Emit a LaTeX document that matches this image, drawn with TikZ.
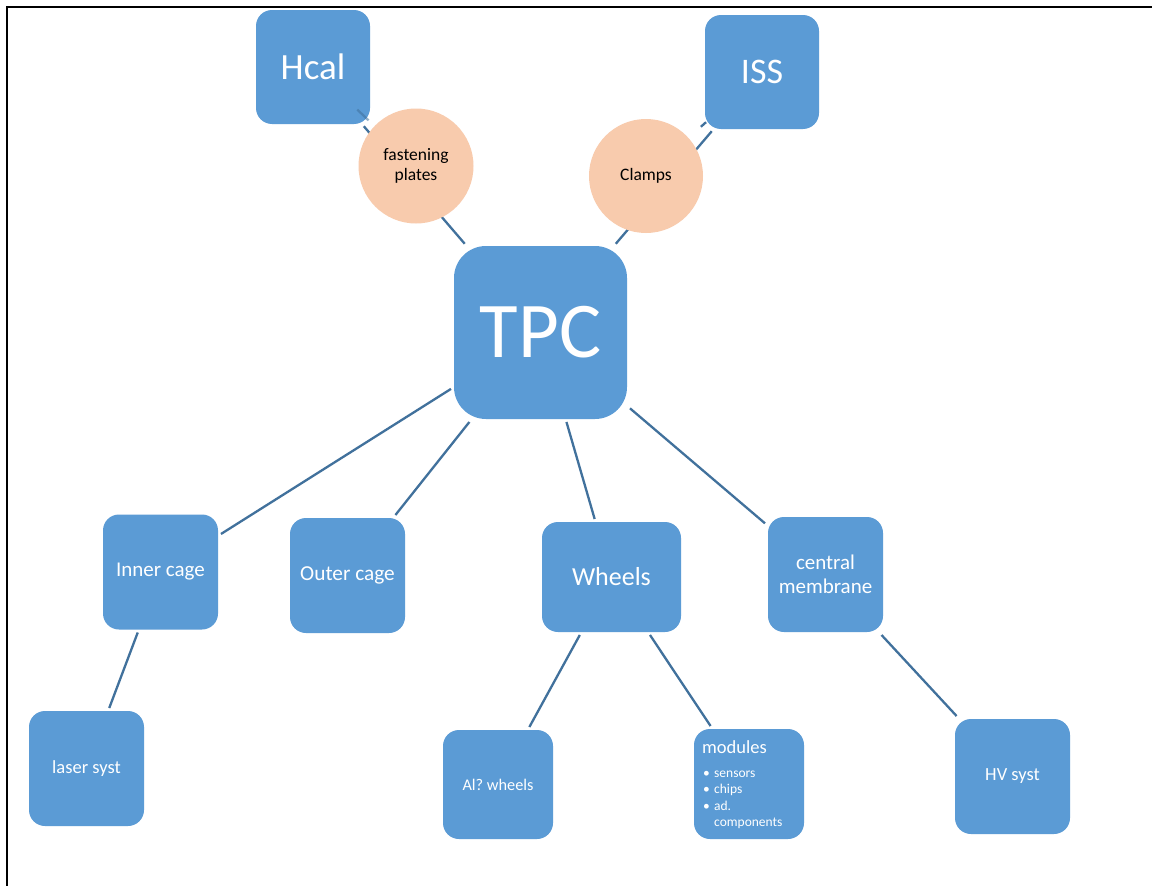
\documentclass[tikz,border=0pt]{standalone}
\usepackage{fontspec}
\setmainfont{Carlito}
\usetikzlibrary{backgrounds}
\definecolor{boxblue}{HTML}{5B9BD5}
\definecolor{linkblue}{HTML}{41719C}
\definecolor{peach}{HTML}{F8CBAD}
\tikzset{
  box/.style={rectangle, fill=boxblue, rounded corners=16pt, text=white,
    inner sep=0pt, outer sep=3pt, align=center,
    minimum width=115pt, minimum height=115pt},
  blob/.style={circle, fill=peach, inner sep=0pt, align=center, text=black,
    font=\fontsize{17.5}{20}\selectfont},
  link/.style={draw=linkblue, line width=2.3pt},
}
\begin{document}
\frenchspacing
\begin{tikzpicture}[x=1pt,y=-1pt]
\useasboundingbox (0,0) rectangle (1152,886);
% nodes
\node[box, minimum width=114pt, minimum height=114pt, font=\fontsize{37}{40}\selectfont] (hcal) at (313,67) {Hcal};
\node[box, minimum width=114pt, minimum height=114pt, font=\fontsize{36}{40}\selectfont] (iss) at (762,72) {ISS};
\node[blob, minimum size=115pt] (fast) at (416,166) {fastening\\plates};
\node[blob, minimum size=114pt] (clamps) at (646,176) {Clamps};
\node[box, minimum width=173pt, minimum height=173pt, rounded corners=32pt, font=\fontsize{79}{80}\selectfont] (tpc) at (540.5,332.5) {TPC};
\node[box, font=\fontsize{21}{24}\selectfont] (inner) at (160.5,572) {Inner cage};
\node[box, font=\fontsize{21.3}{24}\selectfont] (outer) at (347.5,575.5) {Outer cage};
\node[box, minimum width=139pt, minimum height=110pt, font=\fontsize{26}{28}\selectfont] (wheels) at (611.5,577) {Wheels};
\node[box, font=\fontsize{21}{24}\selectfont] (cm) at (825.5,574.5) {central\\membrane};
\node[box, font=\fontsize{18.5}{20}\selectfont] (laser) at (86.5,768.5) {laser syst};
\node[box, minimum width=110pt, minimum height=109pt, font=\fontsize{16.3}{20}\selectfont] (al) at (498,784.5) {Al? wheels};
\node[box, minimum width=110pt, minimum height=110pt] (modules) at (749,784) {};
\node[anchor=base west, inner sep=0pt, text=white, font=\fontsize{18.5}{20}\selectfont] (modtitle) at (702,753) {modules};
\node[anchor=base west, inner sep=0pt, text=white, font=\fontsize{13.5}{16.5}\selectfont] (modlist) at (703,777)
  {\begin{tabular}[t]{@{}l@{}l@{}}\makebox[11pt][l]{\textbullet} & sensors\\
   \makebox[11pt][l]{\textbullet} & chips\\
   \makebox[11pt][l]{\textbullet} & ad.\\
   & components\end{tabular}};
\node[box, font=\fontsize{18.5}{20}\selectfont] (hv) at (1012.5,776.5) {HV syst};
% connectors behind the nodes
\begin{scope}[on background layer]
  \fill[white] (0,0) rectangle (1152,886);
  \draw[link, shorten <=-1pt, shorten >=-1pt] (hcal) -- (tpc);
  \draw[link, shorten <=-1pt, shorten >=-1pt] (tpc) -- (iss);
  \draw[link, shorten <=73.7pt, shorten >=75.2pt] (clamps.center) -- (iss.center);
  \draw[link] (tpc) -- (inner);
  \draw[link] (tpc) -- (outer);
  \draw[link] (tpc) -- (wheels);
  \draw[link] (tpc) -- (cm);
  \draw[link] (inner) -- (laser);
  \draw[link] (wheels) -- (al);
  \draw[link] (wheels) -- (modules);
  \draw[link] (cm) -- (hv);
\end{scope}
% short piece drawn over the Hcal box
\draw[link, draw opacity=0.55, shorten <=61.5pt, shorten >=65.8pt] (hcal.center) -- (fast.center);
% page frame
\draw[line width=2pt, line cap=rect] (7,886) -- (7,7) -- (1152,7);
\end{tikzpicture}
\end{document}
